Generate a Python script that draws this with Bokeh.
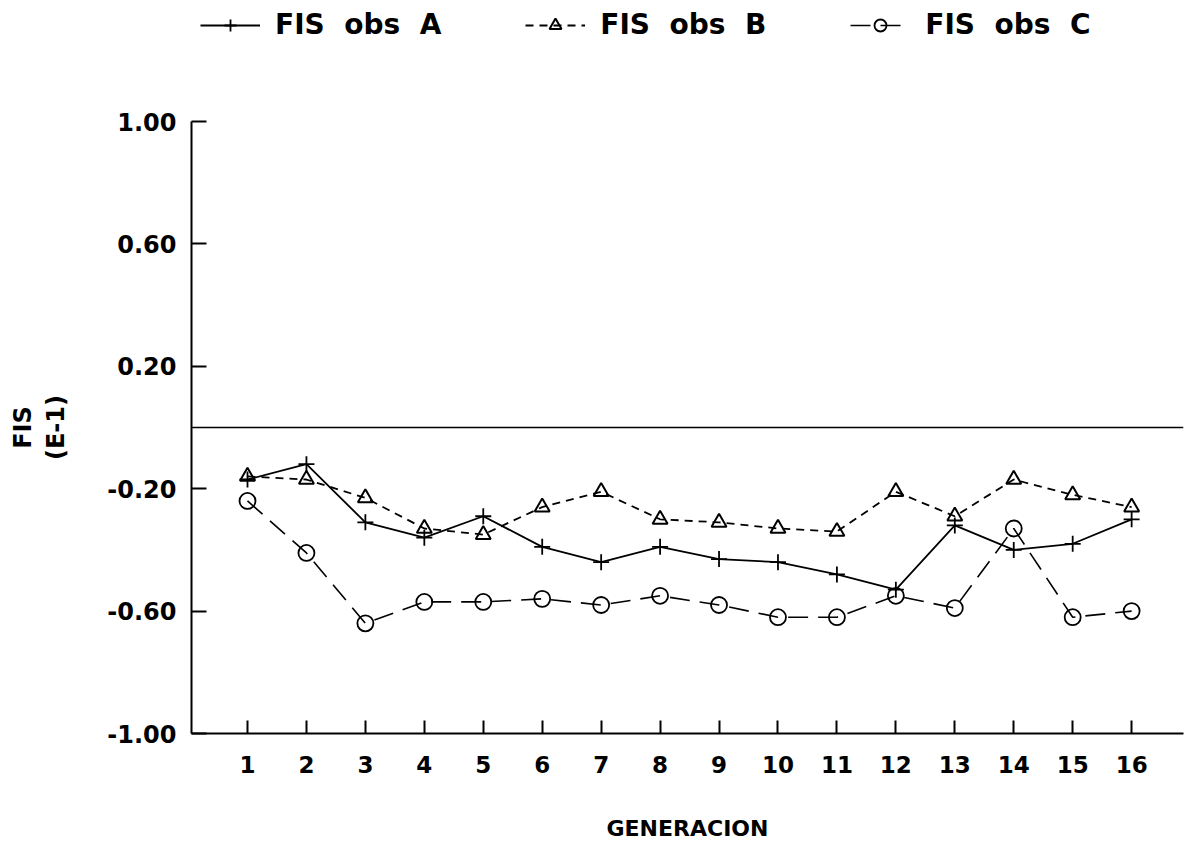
from bokeh.plotting import figure
from bokeh.layouts import column
from bokeh.models import (Legend, LegendItem, Span, FixedTicker, PrintfTickFormatter, LinearAxis)
from bokeh.embed import file_html
from bokeh.resources import INLINE

generacion = list(range(1, 17))
fis_a = [-0.17, -0.12, -0.31, -0.36, -0.29, -0.39, -0.44, -0.39, -0.43, -0.44, -0.48, -0.53, -0.32, -0.40, -0.38, -0.30]
fis_b = [-0.16, -0.17, -0.23, -0.33, -0.35, -0.26, -0.21, -0.30, -0.31, -0.33, -0.34, -0.21, -0.29, -0.17, -0.22, -0.26]
fis_c = [-0.24, -0.41, -0.64, -0.57, -0.57, -0.56, -0.58, -0.55, -0.58, -0.62, -0.62, -0.55, -0.59, -0.33, -0.62, -0.60]
y_ticks = [-1.0, -0.6, -0.2, 0.2, 0.6, 1.0]
series_labels = ["FIS  obs  A", "FIS  obs  B", "FIS  obs  C"]

FONT = "DejaVu Sans"

styles = [
    dict(line=dict(line_width=1.8), marker=dict(marker="cross", size=16, line_width=1.8)),
    dict(line=dict(line_width=1.8, line_dash="8 6"), marker=dict(marker="triangle", size=15, line_width=2)),
    dict(line=dict(line_width=1.6, line_dash="20 10"), marker=dict(marker="circle", size=16, line_width=1.8)),
]

# ---- main plot ----
p = figure(width=1188, height=750, output_backend="svg", toolbar_location=None,
           x_range=(0.05, 16.88), y_range=(-1, 1),
           min_border_left=191, min_border_top=21, min_border_bottom=117, min_border_right=5)
p.xgrid.visible = False
p.ygrid.visible = False
p.outline_line_color = None

for ax in (p.xaxis, p.yaxis):
    ax.axis_line_color = "black"
    ax.axis_line_width = 2
    ax.major_tick_line_color = "black"
    ax.major_tick_line_width = 2
    ax.major_tick_out = 0
    ax.minor_tick_line_color = None
    ax.major_label_text_font = FONT
    ax.major_label_text_font_style = "bold"
    ax.major_label_text_color = "black"
    ax.axis_label_text_font = FONT
    ax.axis_label_text_font_style = "bold"
    ax.axis_label_text_font_size = "22px"
    ax.axis_label_text_color = "black"

p.xaxis.ticker = FixedTicker(ticks=generacion)
p.xaxis.major_tick_in = 13
p.xaxis.major_label_standoff = 22
p.xaxis.major_label_text_font_size = "23px"
p.xaxis.axis_label = "GENERACION"
p.xaxis.axis_label_standoff = 40

p.yaxis.ticker = FixedTicker(ticks=y_ticks)
p.yaxis.formatter = PrintfTickFormatter(format="%.2f")
p.yaxis.major_tick_in = 15
p.yaxis.major_label_standoff = 15
p.yaxis.major_label_text_font_size = "24px"
p.yaxis.axis_label = "(E-1)"
p.yaxis.axis_label_text_font_size = "24px"
p.yaxis.axis_label_standoff = 34

outer = LinearAxis(ticker=FixedTicker(ticks=[]), axis_label="FIS",
                   axis_line_color=None, major_tick_line_color=None, minor_tick_line_color=None,
                   major_label_standoff=0, axis_label_standoff=3,
                   axis_label_text_font=FONT, axis_label_text_font_style="bold",
                   axis_label_text_font_size="24px", axis_label_text_color="black")
p.add_layout(outer, "left")

p.add_layout(Span(location=0, dimension="width", line_color="black", line_width=1.5))

for vals, st in zip([fis_a, fis_b, fis_c], styles):
    p.line(generacion, vals, line_color="black", **st["line"])
    p.scatter(generacion, vals, fill_color=None, line_color="black", **st["marker"])

# ---- legend strip above the plot (legend-only renderers, nothing drawn) ----
nan = float("nan")
top = figure(width=1188, height=100, output_backend="svg", toolbar_location=None,
             x_axis_type=None, y_axis_type=None, min_border=0,
             x_range=(0, 1), y_range=(0, 1))
top.outline_line_color = None
items = []
for lab, st in zip(series_labels, styles):
    rl = top.line(x=[nan, nan], y=[nan, nan], line_color="black", **st["line"])
    rm = top.scatter(x=[nan], y=[nan], fill_color=None, line_color="black", **st["marker"])
    items.append(LegendItem(label=lab, renderers=[rl, rm]))

legend = Legend(items=items, orientation="horizontal", location=(9, 59),
                label_text_font=FONT, label_text_font_style="bold", label_text_font_size="28px",
                label_text_color="black",
                glyph_width=60, glyph_height=30, label_standoff=15, spacing=84,
                padding=0, margin=0, border_line_color=None, background_fill_alpha=0)
top.add_layout(legend)

layout = column(top, p, spacing=0)
open("out.html", "w").write(file_html(layout, INLINE))
